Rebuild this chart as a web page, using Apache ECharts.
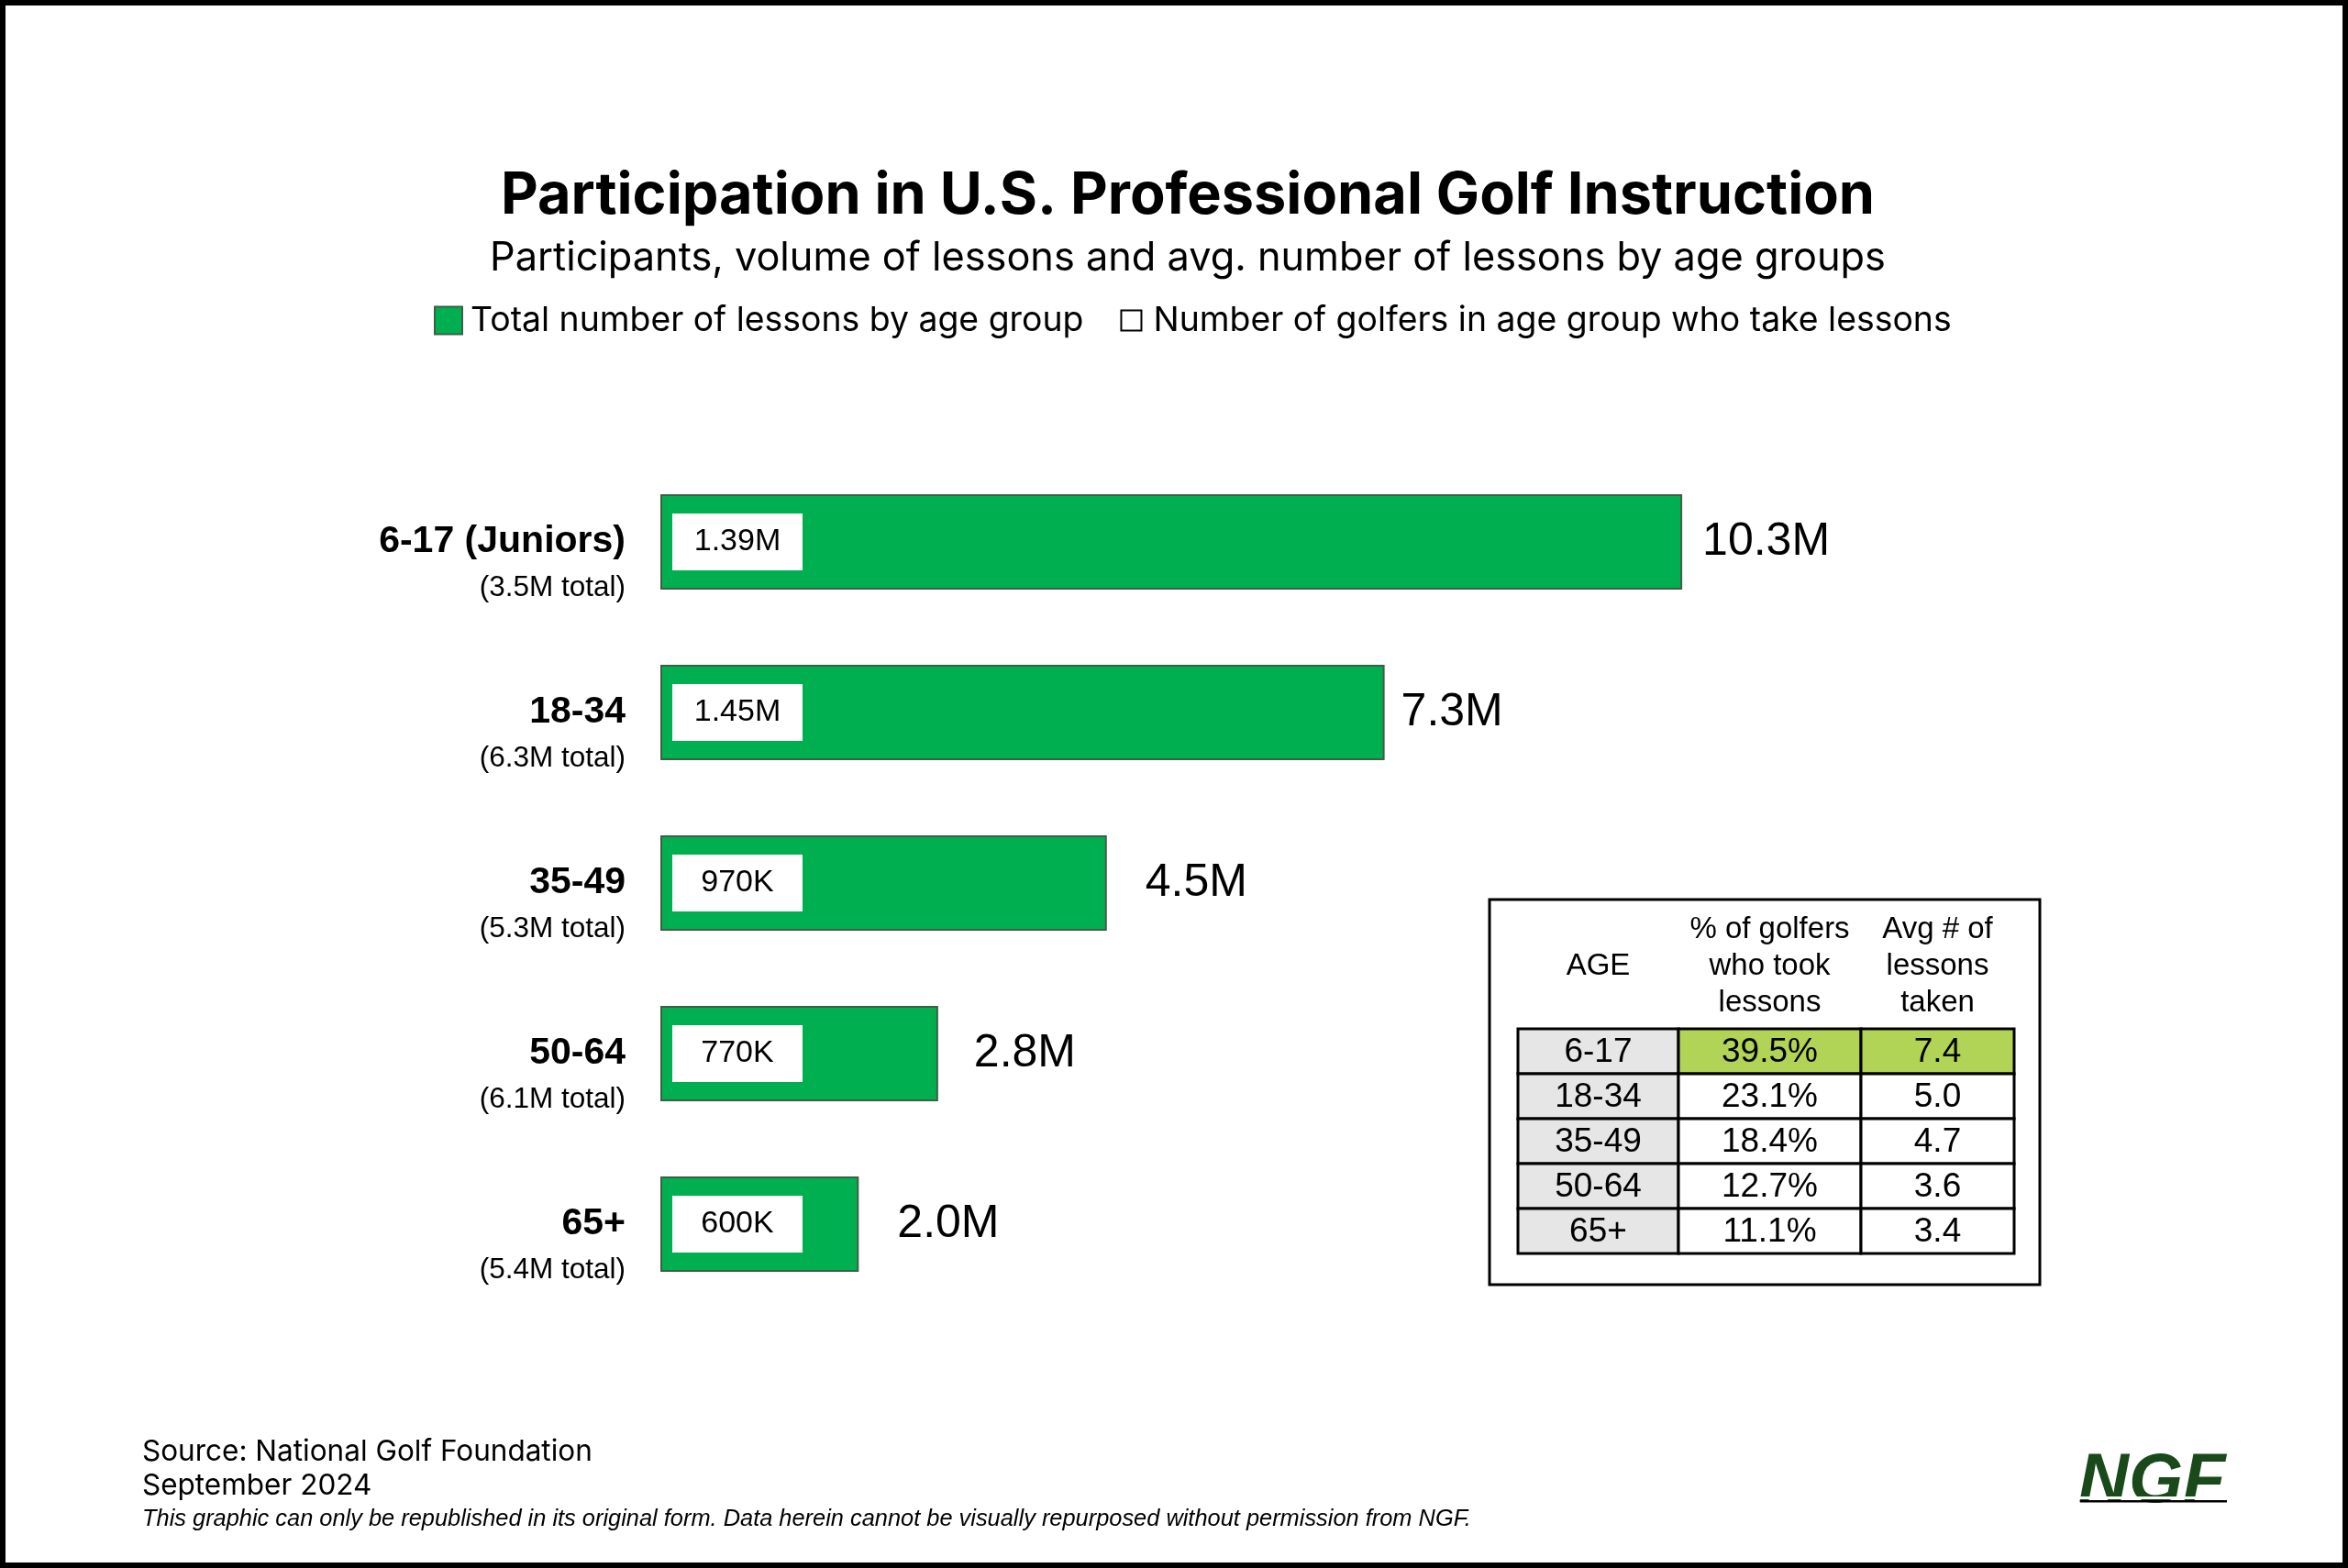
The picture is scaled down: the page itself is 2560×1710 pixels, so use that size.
<!DOCTYPE html>
<html>
<head>
<meta charset="utf-8">
<script src="https://cdn.jsdelivr.net/npm/echarts@6/dist/echarts.min.js"></script>
<style>html,body{margin:0;padding:0;background:#fff}#c{width:2560px;height:1710px}</style>
</head>
<body>
<div id="c"></div>
<script>
// ---- data ----
const categories = ['6-17 (Juniors)', '18-34', '35-49', '50-64', '65+'];
const groupTotalsM = [3.5, 6.3, 5.3, 6.1, 5.4];
const lessonsM = [10.3, 7.3, 4.5, 2.8, 2.0];
const golfersM = [1.39, 1.45, 0.97, 0.77, 0.60];
const tableHeaders = ['AGE', '% of golfers\nwho took\nlessons', 'Avg # of\nlessons\ntaken'];
const tableAges = ['6-17', '18-34', '35-49', '50-64', '65+'];
const tablePct = ['39.5%', '23.1%', '18.4%', '12.7%', '11.1%'];
const tableAvg = ['7.4', '5.0', '4.7', '3.6', '3.4'];

// ---- layout / styles ----
const SANS = 'Inter, "Noto Sans", sans-serif';
const ARIAL = '"Liberation Sans", Arial, sans-serif';
const GREEN = '#00B050';
const colWeights = [175, 199, 167];
const valueLabelGaps = [22, 18, 42, 39, 42];

const fmtGolfers = v => v >= 1 ? v.toFixed(2) + 'M' : Math.round(v * 1000) + 'K';
const tableCols = [tableAges, tablePct, tableAvg];
const tableData = [];
tableAges.forEach((a, r) => { for (let c = 0; c < 3; c++) tableData.push([c, r]); });

const chart = echarts.init(document.getElementById('c'), null, {renderer: 'canvas', width: 2560, height: 1710});

const option = {
  backgroundColor: '#fff',
  animation: false,
  title: [
    {text: 'Participation in U.S. Professional Golf Instruction', left: 1290, textAlign: 'center', top: 178,
     textStyle: {fontFamily: SANS, fontSize: 63, fontWeight: 'bold', color: '#000'}},
    {text: 'Participants, volume of lessons and avg. number of lessons by age groups', left: 1290, textAlign: 'center', top: 255,
     textStyle: {fontFamily: SANS, fontSize: 43.3, fontWeight: 'normal', color: '#000'}}
  ],
  legend: {
    left: 468, top: 326, itemWidth: 30, itemHeight: 30, itemGap: 36, selectedMode: false,
    textStyle: {fontFamily: SANS, fontSize: 37.4, color: '#000', padding: [0, 0, 0, 4]},
    data: [
      {name: 'Total number of lessons by age group', icon: 'rect'},
      {name: 'Number of golfers in age group who take lessons', icon: 'path://M0,0M4,4L26,4L26,26L4,26ZM30,30',
       itemStyle: {color: '#fff', borderColor: '#000', borderWidth: 2}}
    ]
  },
  grid: [
    {left: 720, top: 498, width: 1298, height: 930},
    {left: 1655, top: 1122, width: 541, height: 245}
  ],
  xAxis: [
    {type: 'value', min: 0, max: 12, show: false},
    {type: 'category', gridIndex: 1, data: tableHeaders, show: false}
  ],
  yAxis: [
    {type: 'category', data: categories, inverse: true,
     axisLine: {show: false}, axisTick: {show: false}, splitLine: {show: false},
     axisLabel: {
       margin: 38,
       formatter: (v, i) => '{s| }\n{a|' + v + '}\n{b|(' + groupTotalsM[i].toFixed(1) + 'M total)}',
       rich: {
         s: {fontSize: 10, lineHeight: 50},
         a: {fontFamily: ARIAL, fontSize: 41, fontWeight: 'bold', color: '#000', lineHeight: 50},
         b: {fontFamily: ARIAL, fontSize: 31.5, color: '#000', lineHeight: 50}
       }
     }},
    {type: 'category', gridIndex: 1, data: tableAges, inverse: true, show: false}
  ],
  series: [
    {
      name: 'Total number of lessons by age group', type: 'bar',
      data: lessonsM.map((v, i) => ({value: v, label: {distance: valueLabelGaps[i]}})),
      barWidth: 104, barGap: '-100%',
      itemStyle: {color: GREEN, borderColor: '#3d5e45', borderWidth: 2},
      label: {show: true, position: 'right', distance: 22, formatter: p => p.value.toFixed(1) + 'M',
              fontFamily: ARIAL, fontSize: 50, color: '#000'},
      z: 2
    },
    {
      name: 'Number of golfers in age group who take lessons', type: 'bar', data: golfersM,
      barWidth: 104, barGap: '-100%',
      itemStyle: {color: 'rgba(0,0,0,0)'},
      label: {show: true, position: [13, '50%'], align: 'left', verticalAlign: 'middle',
              formatter: p => '{v|' + fmtGolfers(p.value) + '}',
              rich: {v: {width: 142, height: 62, lineHeight: 62, align: 'center', backgroundColor: '#fff',
                         fontFamily: ARIAL, fontSize: 34, color: '#000'}}},
      z: 3
    },
    {
      type: 'custom', xAxisIndex: 1, yAxisIndex: 1, data: tableData, silent: true,
      renderItem: (params, api) => {
        const col = api.value(0), row = api.value(1);
        const cs = params.coordSys;
        const total = colWeights.reduce((a, b) => a + b, 0);
        let x0 = cs.x;
        for (let k = 0; k < col; k++) x0 += cs.width * colWeights[k] / total;
        const w = cs.width * colWeights[col] / total;
        const yc = api.coord([col, row])[1];
        const h = api.size([0, 1])[1];
        let fill = '#fff';
        if (col === 0) fill = '#e7e6e6';
        else if (row === 0) fill = '#b1d356';
        const children = [
          {type: 'rect', shape: {x: x0, y: yc - h / 2, width: w, height: h},
           style: {fill: fill, stroke: '#000', lineWidth: 3}},
          {type: 'text', x: x0 + w / 2, y: yc + 1,
           style: {text: tableCols[col][row], fontFamily: ARIAL, fontSize: 37, fill: '#000',
                   align: 'center', verticalAlign: 'middle'}}
        ];
        if (row === 0) {
          children.push({type: 'text', x: x0 + w / 2, y: cs.y - 68,
            style: {text: tableHeaders[col], fontFamily: ARIAL, fontSize: 33, lineHeight: 40, fill: '#000',
                    align: 'center', verticalAlign: 'middle'}});
        }
        return {type: 'group', children: children};
      }
    }
  ],
  graphic: [
    {type: 'rect', silent: true, shape: {x: 3, y: 3, width: 2554, height: 1704},
     style: {fill: 'none', stroke: '#000', lineWidth: 6}},
    {type: 'rect', silent: true, shape: {x: 1624, y: 981, width: 600, height: 420},
     style: {fill: 'none', stroke: '#000', lineWidth: 3}},
    {type: 'text', x: 155, y: 1584, style: {text: 'Source: National Golf Foundation', fontFamily: SANS, fontSize: 31.5, fill: '#000', verticalAlign: 'middle'}},
    {type: 'text', x: 155, y: 1621, style: {text: 'September 2024', fontFamily: SANS, fontSize: 31.5, fill: '#000', verticalAlign: 'middle'}},
    {type: 'text', x: 155, y: 1657, style: {text: 'This graphic can only be republished in its original form. Data herein cannot be visually repurposed without permission from NGF.', fontFamily: ARIAL, fontStyle: 'italic', fontSize: 25.4, fill: '#000', verticalAlign: 'middle'}},
    {type: 'text', x: 2266, y: 1617, style: {text: 'NGF', fontFamily: ARIAL, fontStyle: 'italic', fontWeight: 900, fontSize: 76, fill: '#1a4a1c', verticalAlign: 'middle'}},
    {type: 'rect', silent: true, shape: {x: 2264, y: 1632, width: 168, height: 3}, style: {fill: '#fff'}},
    {type: 'rect', silent: true, shape: {x: 2268, y: 1636, width: 160, height: 2.5}, style: {fill: '#000'}}
  ]
};
chart.setOption(option);
</script>
</body>
</html>
